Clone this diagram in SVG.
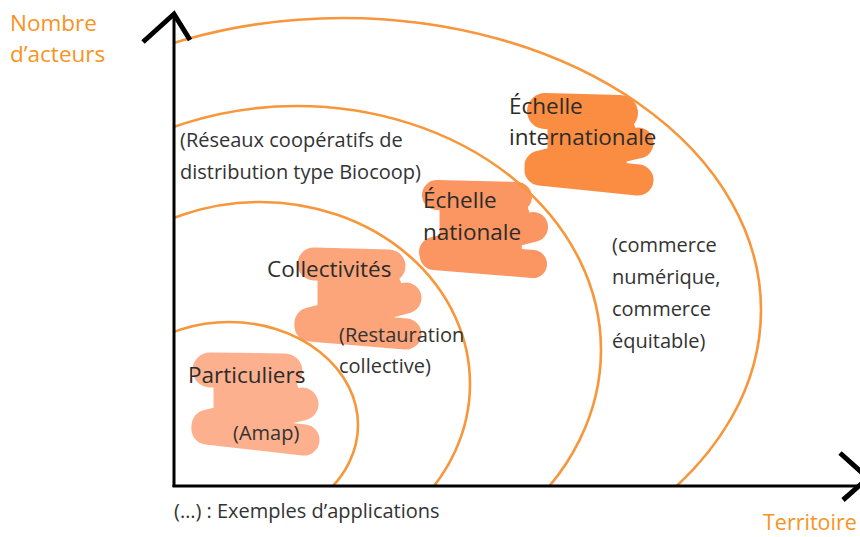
<svg xmlns="http://www.w3.org/2000/svg" width="860" height="537" viewBox="0 0 860 537">
<defs>
<style>
.arc{fill:none;stroke:#F7963A;stroke-width:2.6}
.ax{fill:none;stroke:#000;stroke-width:3}
.ah{fill:none;stroke:#000;stroke-width:5;stroke-linejoin:miter}
.band{fill:none;stroke-linecap:round;stroke-linejoin:round}
.lbl{font-family:"Open Sans","Liberation Sans",sans-serif;font-size:22.5px;fill:#2b2b2b}
.ann{font-family:"Open Sans","Liberation Sans",sans-serif;font-size:20px;fill:#333}
.axl{font-family:"Open Sans","Liberation Sans",sans-serif;font-size:22.5px;fill:#F7931E}
.s1{stroke:#FCB08E;fill:#FCB08E}
.s2{stroke:#FCA57B;fill:#FCA57B}
.s3{stroke:#FB9662;fill:#FB9662}
.s4{stroke:#FA8D42;fill:#FA8D42}
</style>
<clipPath id="quad"><rect x="174" y="0" width="700" height="486"/></clipPath>
</defs>
<rect width="860" height="537" fill="#fff"/>

<g id="scribbles">
<g id="scribble-particuliers">
<polygon class="s1" stroke="none" points="214,378 295,378 302,404 214,422"/>
<polygon class="s1" stroke="none" points="205,420 290,405 292,432 205,432"/>
<path class="band s1" fill="none" stroke-width="35" d="M210,370 L285,371"/>
<path class="band s1" fill="none" stroke-width="33" d="M302,404 L208,426"/>
<path class="band s1" fill="none" stroke-width="31" d="M207,429 L304,440"/>
</g>
<g id="scribble-collectivites">
<polygon class="s2" stroke="none" points="318,270 395,270 407,297 318,317"/>
<polygon class="s2" stroke="none" points="309,320 392,300 395,326 309,328"/>
<path class="band s2" fill="none" stroke-width="33" d="M314,264 L389,266"/>
<path class="band s2" fill="none" stroke-width="31" d="M406,298 L310,323"/>
<path class="band s2" fill="none" stroke-width="31" d="M310,326 L406,334"/>
</g>
<g id="scribble-nationale">
<polygon class="s3" stroke="none" points="440,200 525,200 533,226 440,248"/>
<polygon class="s3" stroke="none" points="434,250 520,230 522,258 434,258"/>
<path class="band s3" fill="none" stroke-width="30" d="M437,195 L517,197"/>
<path class="band s3" fill="none" stroke-width="30" d="M533,227 L434,252"/>
<path class="band s3" fill="none" stroke-width="28" d="M434,256 L533,264"/>
</g>
<g id="scribble-internationale">
<polygon class="s4" stroke="none" points="548,115 630,115 640,141 548,162"/>
<polygon class="s4" stroke="none" points="540,166 625,146 627,174 540,172"/>
<path class="band s4" fill="none" stroke-width="36" d="M545,111 L620,113"/>
<path class="band s4" fill="none" stroke-width="31" d="M638,143 L540,166"/>
<path class="band s4" fill="none" stroke-width="31" d="M540,170 L638,180"/>
</g>
</g>

<g id="arcs" clip-path="url(#quad)">
<ellipse class="arc" cx="229" cy="425" rx="129" ry="103"/>
<ellipse class="arc" cx="260" cy="384" rx="210" ry="182"/>
<ellipse class="arc" cx="297" cy="350" rx="304" ry="244"/>
<ellipse class="arc" cx="343" cy="310" rx="418" ry="292"/>
</g>

<g id="axes">
<line class="ax" x1="174" y1="15" x2="174" y2="487"/>
<line class="ax" x1="172.5" y1="486" x2="866" y2="486"/>
<polyline class="ah" points="143,42 174,14 190,40"/>
<polyline class="ah" points="840,453 868,478 843,500"/>
</g>

<g id="axis-y-label"><text class="axl" x="10" y="31">Nombre</text><text class="axl" x="10" y="62">d’acteurs</text></g>
<g id="axis-x-label"><text class="axl" x="763" y="530" style="font-size:21.5px">Territoire</text></g>

<g id="particuliers">
<text class="lbl" x="188" y="383">Particuliers</text>
<text class="ann" x="233" y="440">(Amap)</text>
</g>
<g id="collectivites">
<text class="lbl" x="267" y="277">Collectivités</text>
<text class="ann" x="339" y="342">(Restauration</text>
<text class="ann" x="339" y="373">collective)</text>
</g>
<g id="echelle-nationale">
<text class="lbl" x="423" y="208">Échelle</text>
<text class="lbl" x="423" y="240">nationale</text>
<text class="ann" x="180" y="147">(Réseaux coopératifs de</text>
<text class="ann" x="180" y="179">distribution type Biocoop)</text>
</g>
<g id="echelle-internationale">
<text class="lbl" x="509" y="114">Échelle</text>
<text class="lbl" x="509" y="145">internationale</text>
<text class="ann" x="612" y="252">(commerce</text>
<text class="ann" x="612" y="284">numérique,</text>
<text class="ann" x="612" y="316">commerce</text>
<text class="ann" x="612" y="348">équitable)</text>
</g>
<g id="legend">
<text class="ann" x="174" y="518">(…) : Exemples d’applications</text>
</g>
</svg>
